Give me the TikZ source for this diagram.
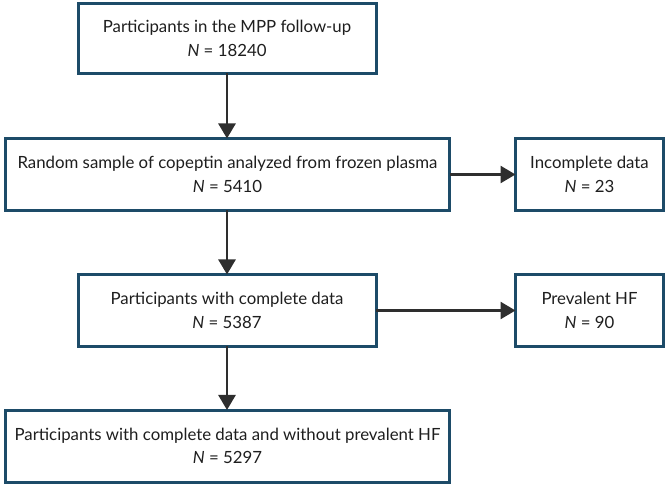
\documentclass[tikz,border=0pt]{standalone}
\usepackage{fontspec}
\setmainfont{Lato}
\usetikzlibrary{arrows.meta}
\definecolor{boxblue}{HTML}{1D4B68}
\definecolor{arrowgray}{HTML}{2E2E2E}
\definecolor{txt}{HTML}{1E1E1E}
\tikzset{
  flowbox/.style={draw=boxblue, line width=3pt, fill=white, rectangle,
    inner sep=0pt, outer sep=0pt, minimum height=72pt, align=center,
    text=txt, font=\fontsize{16.8}{23.5}\selectfont},
  flowarrow/.style={draw=arrowgray, line width=2.6pt,
    -{Triangle[length=15pt,width=17pt]}}
}
\begin{document}
\begin{tikzpicture}[x=1pt,y=-1pt]
\useasboundingbox (0,0) rectangle (667,486);
\node[flowbox, minimum width=298pt, minimum height=70pt] (mpp) at (227,38.5)
  {Participants in the MPP follow-up\\\textit{N} = 18240};
\node[flowbox, minimum width=444pt] (rand) at (227.5,174.5)
  {Random sample of copeptin analyzed from frozen plasma\\\textit{N} = 5410};
\node[flowbox, minimum width=148pt] (inc) at (589.5,174.5)
  {Incomplete data\\\textit{N} = 23};
\node[flowbox, minimum width=298pt] (comp) at (227,310.5)
  {Participants with complete data\\\textit{N} = 5387};
\node[flowbox, minimum width=148pt] (hf) at (589.5,310.5)
  {Prevalent HF\\\textit{N} = 90};
\node[flowbox, minimum width=444pt] (final) at (227.5,446)
  {Participants with complete data and without prevalent HF\\\textit{N} = 5297};
\draw[flowarrow] (mpp.south) -- (mpp.south |- rand.north);
\draw[flowarrow] (mpp.south |- rand.south) -- (mpp.south |- comp.north);
\draw[flowarrow] (comp.south) -- (comp.south |- final.north);
\draw[flowarrow] (rand.east) -- (inc.west);
\draw[flowarrow] (comp.east) -- (hf.west);
\end{tikzpicture}
\end{document}
